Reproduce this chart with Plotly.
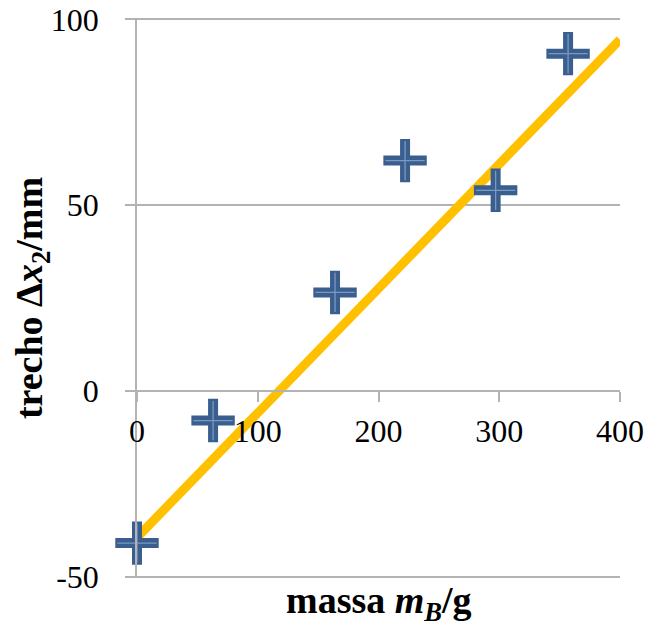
import plotly.graph_objects as go

# data
mass_g = [0, 63, 164, 222, 297, 357]
stretch_mm = [-41, -8, 26.5, 62, 54, 90.8]
fit_x = [0, 400]
fit_y = [-39.5, 94.6]

x_ticks = [0, 100, 200, 300, 400]
x_ticklabels = ["0", "100", "200", "300", "400"]
y_ticks = [-50, 0, 50, 100]
y_ticklabels = ["-50", "0", "50", "100"]

FONT = "Liberation Serif"
GRAY = "#b3b3b3"
Y_RANGE = [-50.4, 100.4]

fig = go.Figure()
fig.add_trace(go.Scatter(x=fit_x, y=fit_y, mode="lines",
                         line=dict(color="#FFC000", width=9), showlegend=False,
                         hoverinfo="skip", cliponaxis=False))
fig.add_trace(go.Scatter(x=mass_g, y=stretch_mm, mode="markers",
                         marker=dict(symbol="cross-thin", size=31,
                                     line=dict(color="#3A5F8F", width=10)),
                         showlegend=False, cliponaxis=False))
fig.add_trace(go.Scatter(x=mass_g, y=stretch_mm, mode="markers",
                         marker=dict(symbol="cross-thin", size=28,
                                     line=dict(color="#7B98C4", width=1.3)),
                         showlegend=False, hoverinfo="skip", cliponaxis=False))

fig.update_layout(
    width=648, height=620,
    margin=dict(l=129, r=36, t=10, b=50),
    paper_bgcolor="white", plot_bgcolor="white",
    font=dict(family=FONT, size=32, color="black"),
    xaxis=dict(range=[0, 400], anchor="free",
               position=(0 - Y_RANGE[0]) / (Y_RANGE[1] - Y_RANGE[0]),
               tickvals=x_ticks, ticktext=x_ticklabels,
               showline=True, linecolor=GRAY, linewidth=1.5,
               ticks="outside", ticklen=10, tickcolor=GRAY, tickwidth=1.5,
               showgrid=False, zeroline=False, ticklabelstandoff=2,
               ticklabeloverflow="allow", automargin=False),
    yaxis=dict(range=Y_RANGE, tickvals=y_ticks, ticktext=y_ticklabels,
               showline=True, linecolor=GRAY, linewidth=1.5,
               ticks="outside", ticklen=10, tickcolor=GRAY, tickwidth=1.5,
               showgrid=True, gridcolor=GRAY, gridwidth=1.5, zeroline=False,
               ticklabelstandoff=20, ticklabeloverflow="allow", automargin=False,
               title=dict(text="<b>trecho Δ<i>x</i><sub>2</sub>/mm</b>",
                          font=dict(family=FONT, size=38), standoff=10)),
    annotations=[dict(text="<b>massa <i>m</i><sub><i>B</i></sub>/g</b>",
                      x=0.5, y=-0.045, xref="paper", yref="paper",
                      xanchor="center", yanchor="middle", showarrow=False,
                      font=dict(family=FONT, size=38))],
)

fig.write_html("out.html")
